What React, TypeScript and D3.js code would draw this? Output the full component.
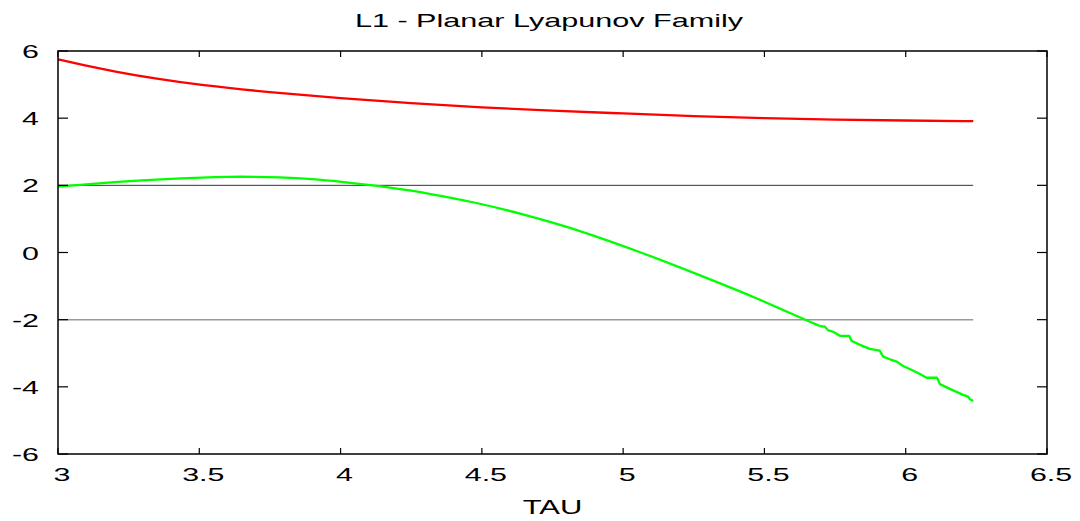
import React from "react";
import * as d3 from "d3";

const TITLE = "L1 - Planar Lyapunov Family";
const X_LABEL = "TAU";
const X_TICKS = [3, 3.5, 4, 4.5, 5, 5.5, 6, 6.5];
const Y_TICKS = [-6, -4, -2, 0, 2, 4, 6];

const redTau = [3.0, 3.1, 3.2, 3.35, 3.5, 3.75, 4.0, 4.25, 4.5, 4.75, 5.0, 5.25, 5.5, 5.75, 6.0, 6.239];
const redVal = [5.75, 5.56, 5.39, 5.17, 4.99, 4.77, 4.59, 4.44, 4.32, 4.22, 4.14, 4.06, 4.0, 3.95, 3.93, 3.91];

const greenTau = [
  3.0, 3.2, 3.4, 3.6, 3.8, 3.9, 4.0, 4.12, 4.25, 4.35, 4.5, 4.65, 4.75, 4.85, 5.06, 5.27, 5.48, 5.637,
  5.696, 5.714, 5.726, 5.743, 5.767, 5.8, 5.808, 5.838, 5.873, 5.908, 5.92, 5.944, 5.968,
  5.991, 6.027, 6.05, 6.074, 6.111, 6.121, 6.156, 6.203, 6.221, 6.227, 6.239,
];
const greenVal = [
  1.96, 2.1, 2.2, 2.27, 2.24, 2.19, 2.11, 2.0, 1.85, 1.69, 1.45, 1.13, 0.89, 0.64, 0.02, -0.67, -1.38, -1.98,
  -2.19, -2.21, -2.32, -2.36, -2.48, -2.48, -2.63, -2.75, -2.87, -2.92, -3.1, -3.18, -3.25,
  -3.38, -3.52, -3.62, -3.73, -3.73, -3.92, -4.06, -4.24, -4.29, -4.37, -4.42,
];

const refLevels = [2, -2];
const refColors = ["#333333", "#999999"];
const refWidths = [1, 1.5];

const W = 1080;
const H = 521;
const LEFT = 58;
const RIGHT = 1047;
const TOP = 51;
const BOTTOM = 454;

export default function App() {
  const x = d3.scaleLinear().domain([3, 6.5]).range([LEFT, RIGHT]);
  const y = d3.scaleLinear().domain([-6, 6]).range([BOTTOM, TOP]);

  const redPts: [number, number][] = redTau.map((t, i) => [t, redVal[i]]);
  const greenPts: [number, number][] = greenTau.map((t, i) => [t, greenVal[i]]);

  const smooth = d3
    .line<[number, number]>()
    .x((d) => x(d[0]))
    .y((d) => y(d[1]))
    .curve(d3.curveBasis);
  const straight = d3
    .line<[number, number]>()
    .x((d) => x(d[0]))
    .y((d) => y(d[1]));

  const greenSmooth = greenPts.filter((d) => d[0] <= 5.7);
  const greenStep = greenPts.filter((d) => d[0] >= 5.696);

  const tauMin = d3.min(greenTau) as number;
  const tauMax = d3.max(greenTau) as number;

  const font = "'Liberation Sans', Arial, Helvetica, sans-serif";
  const stretch = 1.6;

  return (
    <svg
      width={W}
      height={H}
      style={{ position: "absolute", left: 0, top: 0, background: "#fff" }}
      fontFamily={font}
    >
      <rect x={0} y={0} width={W} height={H} fill="#fff" />
      {refLevels.map((lv, i) => (
        <line
          key={"ref" + i}
          x1={x(tauMin)}
          x2={x(tauMax)}
          y1={y(lv)}
          y2={y(lv)}
          stroke={refColors[i]}
          strokeWidth={refWidths[i]}
        />
      ))}
      <path d={smooth(redPts) || ""} fill="none" stroke="#ff0000" strokeWidth={2.3} />
      <path d={smooth(greenSmooth) || ""} fill="none" stroke="#00ff00" strokeWidth={2.3} />
      <path
        d={straight(greenStep) || ""}
        fill="none"
        stroke="#00ff00"
        strokeWidth={2.3}
        strokeLinejoin="round"
      />
      <rect
        x={LEFT}
        y={TOP}
        width={RIGHT - LEFT}
        height={BOTTOM - TOP}
        fill="none"
        stroke="#000"
        strokeWidth={1.5}
      />
      {X_TICKS.map((t) => (
        <g key={"xt" + t}>
          <line x1={x(t)} x2={x(t)} y1={BOTTOM} y2={BOTTOM - 6} stroke="#000" strokeWidth={1.2} />
          <line x1={x(t)} x2={x(t)} y1={TOP} y2={TOP + 6} stroke="#000" strokeWidth={1.2} />
          <text
            transform={`translate(${x(t) + 4},481) scale(${stretch},1)`}
            textAnchor="middle"
            fontSize={19}
            fill="#000"
          >
            {String(t)}
          </text>
        </g>
      ))}
      {Y_TICKS.map((t) => (
        <g key={"yt" + t}>
          <line x1={LEFT} x2={LEFT + 10} y1={y(t)} y2={y(t)} stroke="#000" strokeWidth={1.2} />
          <line x1={RIGHT} x2={RIGHT - 10} y1={y(t)} y2={y(t)} stroke="#000" strokeWidth={1.2} />
          <text
            transform={`translate(39,${y(t) + 7}) scale(${stretch},1)`}
            textAnchor="end"
            fontSize={19}
            fill="#000"
          >
            {String(t)}
          </text>
        </g>
      ))}
      <text
        transform={`translate(549,27) scale(1.7,1)`}
        textAnchor="middle"
        fontSize={18}
        fill="#000"
      >
        {TITLE}
      </text>
      <text
        transform={`translate(${(LEFT + RIGHT) / 2},514) scale(1.55,1)`}
        textAnchor="middle"
        fontSize={20}
        fill="#000"
      >
        {X_LABEL}
      </text>
    </svg>
  );
}
